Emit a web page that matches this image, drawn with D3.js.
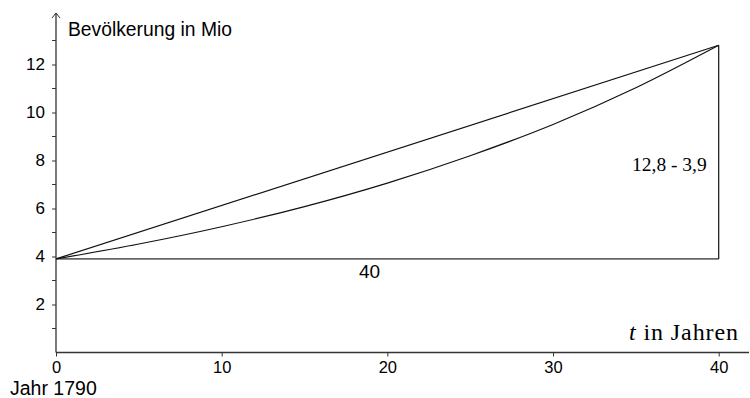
<!DOCTYPE html>
<html>
<head>
<meta charset="utf-8">
<script src="https://cdn.jsdelivr.net/npm/d3@7"></script>
<style>
  html, body { margin: 0; padding: 0; background: #fff; }
  svg { display: block; }
</style>
</head>
<body>
<svg id="chart" width="750" height="398"></svg>
<script>
// ---- data ----
const years = [0, 5, 10, 15, 20, 25, 30, 35, 40];
const population = [3.9, 4.52, 5.24, 6.08, 7.06, 8.2, 9.5, 11.03, 12.8];
const startValue = 3.9;
const endValue = 12.8;
const startYear = 0;
const endYear = 40;
const xTicks = [0, 10, 20, 30, 40];
const yMajorTicks = [2, 4, 6, 8, 10, 12];
const yMinorTicks = [1, 3, 5, 7, 9, 11, 13];
const yAxisLabel = "Bevölkerung in Mio";
const xOriginLabel = "Jahr 1790";
const baseLabel = "40";
const heightLabel = "12,8 - 3,9";

// ---- layout ----
const svg = d3.select("#chart");
const x = d3.scaleLinear().domain([0, 40]).range([56, 718.7]);
const y = d3.scaleLinear().domain([0, 13]).range([352.5, 40.5]);
const axisColor = "#333";
const sans = "Liberation Sans, Arial, sans-serif";
const serif = "Liberation Serif, Times New Roman, serif";

// x axis line
svg.append("line")
  .attr("x1", x(0)).attr("x2", 749).attr("y1", y(0)).attr("y2", y(0))
  .attr("stroke", axisColor).attr("stroke-width", 1.3);

// y axis line with arrow
const yTop = 13;
svg.append("line")
  .attr("x1", x(0)).attr("x2", x(0)).attr("y1", y(0)).attr("y2", yTop)
  .attr("stroke", axisColor).attr("stroke-width", 1.3);
svg.append("path")
  .attr("d", `M${x(0)-4},${yTop+5} L${x(0)},${yTop} L${x(0)+4},${yTop+5}`)
  .attr("fill", "none").attr("stroke", axisColor).attr("stroke-width", 1);

// x ticks
const xg = svg.append("g").attr("transform", `translate(0,${y(0)})`)
  .call(d3.axisBottom(x).tickValues(xTicks).tickSize(4).tickSizeOuter(0).tickPadding(5).tickFormat(d3.format("d")));
xg.select(".domain").remove();
xg.selectAll("line").attr("stroke", axisColor);
xg.selectAll("text").attr("font-family", sans).attr("font-size", 16.5).attr("fill", "#000");

// y ticks
const yg = svg.append("g").attr("transform", `translate(${x(0)},0)`)
  .call(d3.axisLeft(y).tickValues(yMajorTicks).tickSize(4).tickSizeOuter(0).tickPadding(7).tickFormat(d3.format("d")));
yg.select(".domain").remove();
yg.selectAll("line").attr("stroke", axisColor);
yg.selectAll("text").attr("font-family", sans).attr("font-size", 17).attr("fill", "#000");
svg.append("g").selectAll("line").data(yMinorTicks).join("line")
  .attr("x1", x(0) - 4).attr("x2", x(0)).attr("y1", d => y(d)).attr("y2", d => y(d))
  .attr("stroke", axisColor);

// horizontal base line
svg.append("line")
  .attr("x1", x(startYear)).attr("x2", x(endYear))
  .attr("y1", y(startValue)).attr("y2", y(startValue))
  .attr("stroke", "#666").attr("stroke-width", 1.6);

// vertical line
svg.append("line")
  .attr("x1", x(endYear)).attr("x2", x(endYear))
  .attr("y1", y(startValue)).attr("y2", y(endValue))
  .attr("stroke", "#111").attr("stroke-width", 1.2);

// secant
svg.append("line")
  .attr("x1", x(startYear)).attr("x2", x(endYear))
  .attr("y1", y(startValue)).attr("y2", y(endValue))
  .attr("stroke", "#111").attr("stroke-width", 1.2);

// curve
const line = d3.line().x((d, i) => x(years[i])).y(d => y(d)).curve(d3.curveCatmullRom);
svg.append("path").datum(population)
  .attr("d", line).attr("fill", "none").attr("stroke", "#111").attr("stroke-width", 1.2);

// labels
svg.append("text").attr("x", 68).attr("y", 36).text(yAxisLabel)
  .attr("font-family", sans).attr("font-size", 19.3);
svg.append("text").attr("x", 10).attr("y", 395).text(xOriginLabel)
  .attr("font-family", sans).attr("font-size", 19.5);
svg.append("text").attr("x", 359).attr("y", 278).text(baseLabel)
  .attr("font-family", sans).attr("font-size", 19);
svg.append("text").attr("x", 632).attr("y", 171).text(heightLabel)
  .attr("font-family", serif).attr("font-size", 19.5);

const tl = svg.append("text").attr("x", 629).attr("y", 340)
  .attr("font-family", serif).attr("font-size", 24).attr("letter-spacing", 0.9);
tl.append("tspan").attr("font-style", "italic").text("t");
tl.append("tspan").text(" in Jahren");
</script>
</body>
</html>
